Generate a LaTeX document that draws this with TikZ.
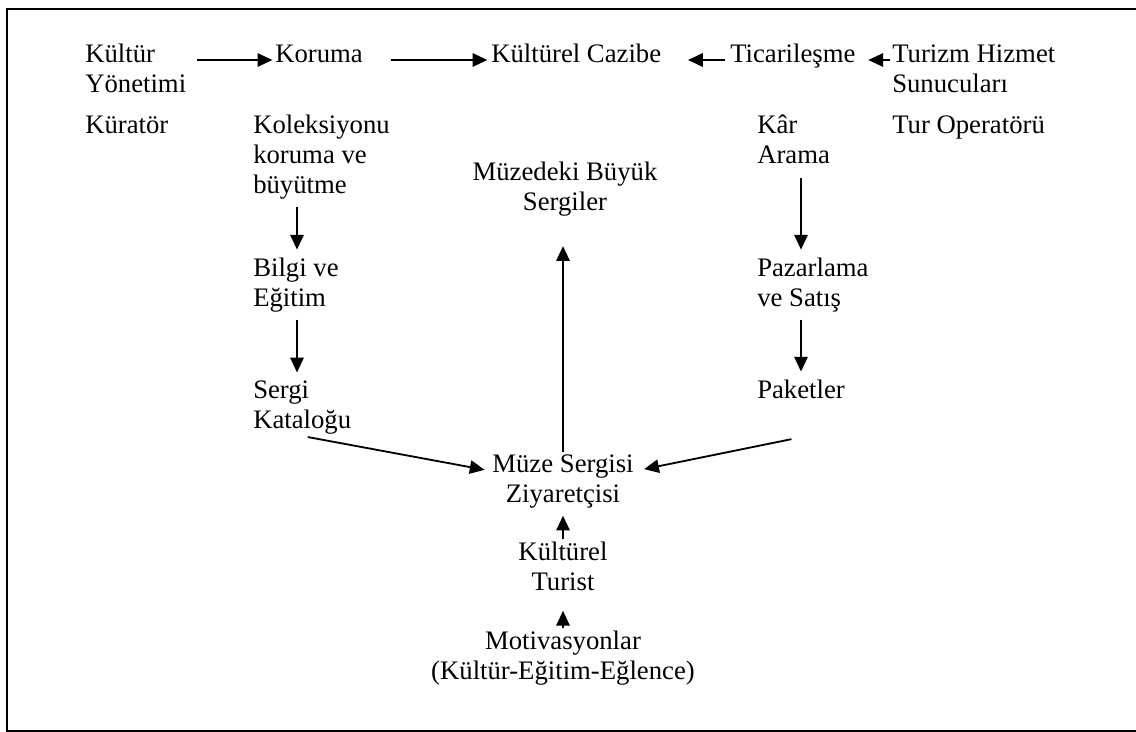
\documentclass[tikz,border=0pt]{standalone}
\usepackage{fontspec}
\setmainfont{Liberation Serif}
\usetikzlibrary{
    arrows.meta,
    positioning,
    calc
}
\tikzset{
    % --- Plain text entry (no box), placed at its last baseline ---
    lbl/.style = {
        inner sep=1.4pt, align=left, anchor=base west,
        font=\fontsize{19}{21.3}\selectfont
    },
    % --- Centred entry of the middle column ---
    mid/.style = {
        lbl, align=center, anchor=base
    },
    % --- Flow arrow ---
    flow/.style = {
        -{Triangle[length=10.5pt,width=9.5pt]}, line width=1.3pt,
        shorten <=4pt, shorten >=4pt
    },
    % --- Outer frame ---
    frame/.style = {
        line width=1.4pt
    }
}

\begin{document}
\begin{tikzpicture}[x=0.025cm, y=-0.025cm]

\useasboundingbox (0,0) rectangle (1136,731);
\draw[frame] (7,9) rectangle (1142,731);

% ---------------------------------------------------------
% 1. Top row
% ---------------------------------------------------------
\node[lbl] (mgmt)     at (83,92)  {Kültür\\Yönetimi};
\node[lbl] (protect)  at (273,62) {Koruma};
\node[lbl] (attract)  at (489,62) {Kültürel Cazibe};
\node[lbl] (trade)    at (728,62) {Ticarileşme};
\node[lbl] (provider) at (890,92) {Turizm Hizmet\\Sunucuları};

\node[lbl] (curator)  at (83,133)  {Küratör};
\node[lbl] (operator) at (890,133) {Tur Operatörü};

% ---------------------------------------------------------
% 2. Left column
% ---------------------------------------------------------
\coordinate (colL) at (297,0);
\node[lbl] (collect) at (251,193) {Koleksiyonu\\koruma ve\\büyütme};
\node[lbl] (info)    at (251,306) {Bilgi ve\\Eğitim};
\node[lbl] (catalog) at (251,428) {Sergi\\Kataloğu};

% ---------------------------------------------------------
% 3. Right column
% ---------------------------------------------------------
\coordinate (colR) at (801,0);
\node[lbl] (profit)  at (755,163) {Kâr\\Arama};
\node[lbl] (market)  at (755,306) {Pazarlama\\ve Satış};
\node[lbl] (package) at (755,398) {Paketler};

% ---------------------------------------------------------
% 4. Middle column
% ---------------------------------------------------------
\coordinate (colM) at (563,0);
\node[mid] (bigshow) at (565,210) {Müzedeki Büyük\\Sergiler};
\node[mid] (visitor) at (563,502) {Müze Sergisi\\Ziyaretçisi};
\node[mid] (tourist) at (563,590) {Kültürel\\Turist};
\node[mid] (motive)  at (563,679) {Motivasyonlar\\(Kültür-Eğitim-Eğlence)};

% ---------------------------------------------------------
% 5. Arrows
% ---------------------------------------------------------
% top row
\draw[flow] ($(protect.base -| mgmt.east)+(3,-2)$) -- ($(protect.base west)+(5,-2)$);
\draw[flow] ($(protect.base east)+(20,-2)$) -- ($(attract.base west)+(4,-2)$);
\draw[flow] ($(trade.base west)+(3,-2)$) -- ($(attract.base east)+(19,-2)$);
\draw[flow] ($(trade.base -| provider.west)+(6,-2)$) -- ($(trade.base east)+(5,-2)$);

% columns
\draw[flow] (collect.south -| colL) -- (info.north -| colL);
\draw[flow] (info.south -| colL) -- (catalog.north -| colL);
\draw[flow, shorten <=9pt] (profit.south -| colR) -- (market.north -| colR);
\draw[flow] (market.south -| colR) -- (package.north -| colR);

% into the visitor
\draw[flow] (catalog.south) -- (visitor.172);
\draw[flow, shorten >=6pt] ($(package.south |- catalog.south)+(-4,2)$) -- (visitor.8);
\draw[flow, shorten <=0pt, shorten >=20pt] (visitor.north -| colM) -- (bigshow.south -| colM);
\draw[flow, shorten <=0pt] (tourist.north -| colM) -- (visitor.south -| colM);
\draw[flow, shorten <=0pt, shorten >=13pt] (motive.north -| colM) -- (tourist.south -| colM);

\end{tikzpicture}
\end{document}
